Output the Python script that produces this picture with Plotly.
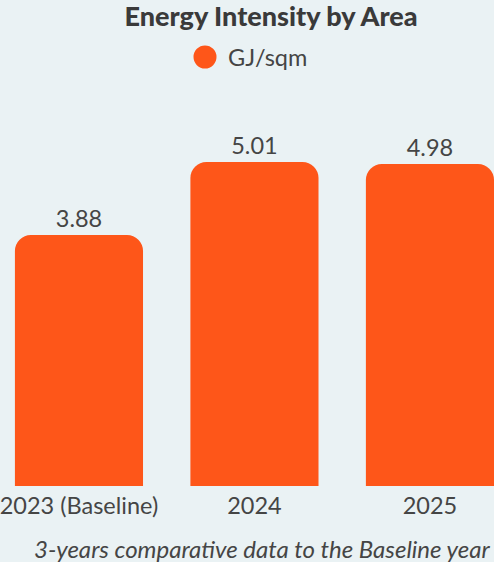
import plotly.graph_objects as go

# Energy intensity per floor area, baseline year plus two following years
categories = ["2023 (Baseline)", "2024", "2025"]
values = [3.88, 5.01, 4.98]
series_name = "GJ/sqm"

title_text = "Energy Intensity by Area"
caption_text = "3-years comparative data to the Baseline year"

BAR_COLOR = "#FE5619"
BG = "#EAF2F4"
TEXT = "#454545"
FONT = "Lato"

W, H = 494, 562
M_T, M_B = 98, 76
plot_h = H - M_T - M_B

fig = go.Figure()
fig.add_trace(go.Bar(
    x=categories,
    y=values,
    name=series_name,
    marker=dict(color=BAR_COLOR, cornerradius=16, line=dict(width=0)),
    width=0.73,
    text=[f"{v:.2f}" for v in values],
    textposition="outside",
    textfont=dict(family=FONT, size=23.5, color=TEXT),
    cliponaxis=False,
    showlegend=False,
))

def py(pix):
    # convert a pixel row in the page into paper y units
    return (H - M_B - pix) / plot_h

# legend swatch (circle) and label
fig.add_shape(
    type="circle", xref="paper", yref="paper",
    xsizemode="pixel", ysizemode="pixel",
    xanchor=205 / W, yanchor=py(57),
    x0=-11.5, x1=11.5, y0=-11.5, y1=11.5,
    fillcolor=BAR_COLOR, line=dict(width=0),
)
fig.add_annotation(
    x=226 / W, y=py(57), xref="paper", yref="paper",
    xanchor="left", yanchor="middle", showarrow=False,
    text=series_name, font=dict(family=FONT, size=23.5, color=TEXT),
)

# caption below the axis
fig.add_annotation(
    x=262 / W, y=py(548), xref="paper", yref="paper",
    xanchor="center", yanchor="middle", showarrow=False,
    text=f"<i>{caption_text}</i>", font=dict(family=FONT, size=24, color=TEXT),
)

fig.update_layout(
    width=W, height=H,
    margin=dict(l=0, r=0, t=M_T, b=M_B, pad=0),
    paper_bgcolor=BG, plot_bgcolor=BG,
    title=dict(
        text=title_text, x=271 / W, xanchor="center",
        y=1 - 17 / H, yanchor="middle", yref="container",
        font=dict(family=FONT, size=27, color="#3A3A3A", weight=900),
    ),
    xaxis=dict(
        range=[-0.450, 2.365], showgrid=False, zeroline=False, showline=False,
        ticks="", tickfont=dict(family=FONT, size=23.5, color=TEXT),
        ticklabelstandoff=3, fixedrange=True,
    ),
    yaxis=dict(
        range=[0, 6], visible=False, showgrid=False, zeroline=False,
        fixedrange=True,
    ),
    showlegend=False,
    uniformtext=dict(mode=False),
)

fig.write_html("out.html", config={"displayModeBar": False})
